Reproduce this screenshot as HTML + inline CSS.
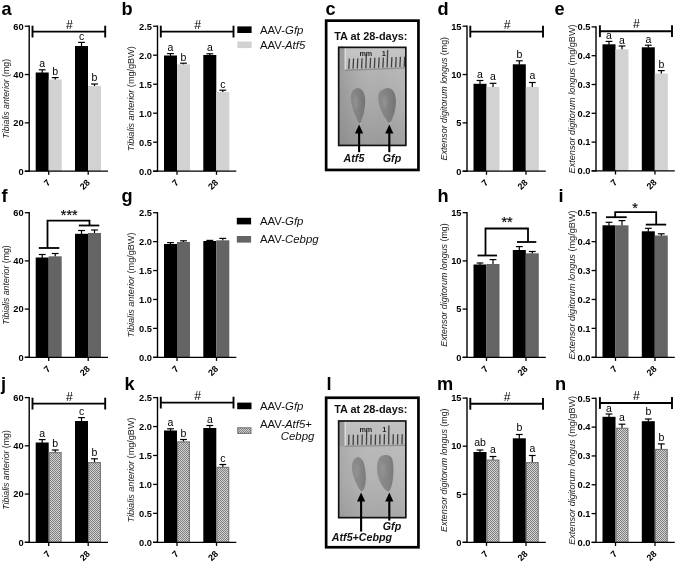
<!DOCTYPE html>
<html><head><meta charset="utf-8"><title>Figure</title>
<style>
html,body{margin:0;padding:0;background:#fff;}
body{width:676px;height:563px;overflow:hidden;}
svg{display:block;font-family:"Liberation Sans", Arial, sans-serif;}
svg text{font-family:"Liberation Sans", Arial, sans-serif;}
</style></head><body>
<svg width="676" height="563" viewBox="0 0 676 563">
<rect width="676" height="563" fill="#fff"/>
<defs>
<pattern id="chk" width="2" height="2" patternUnits="userSpaceOnUse">
<rect width="2" height="2" fill="#d4d4d4"/><rect width="1" height="1" fill="#7e7e7e"/><rect x="1" y="1" width="1" height="1" fill="#7e7e7e"/>
</pattern>
<linearGradient id="pg1" x1="0" y1="0" x2="0" y2="1"><stop offset="0" stop-color="#b6b6b6"/><stop offset="0.25" stop-color="#b2b2b2"/><stop offset="0.6" stop-color="#a8a8a8"/><stop offset="1" stop-color="#999999"/></linearGradient>
<linearGradient id="pg2" x1="0" y1="0" x2="0" y2="1"><stop offset="0" stop-color="#bcbcbc"/><stop offset="0.3" stop-color="#b8b8b8"/><stop offset="0.65" stop-color="#b2b2b2"/><stop offset="1" stop-color="#a6a6a6"/></linearGradient>
<linearGradient id="vg" x1="0" y1="0" x2="1" y2="0"><stop offset="0" stop-color="#707070" stop-opacity="0.35"/><stop offset="0.3" stop-color="#808080" stop-opacity="0.08"/><stop offset="0.6" stop-color="#fff" stop-opacity="0"/><stop offset="1" stop-color="#fff" stop-opacity="0.08"/></linearGradient>
<linearGradient id="rg1" x1="0" y1="0" x2="0" y2="1"><stop offset="0" stop-color="#c6c6c6"/><stop offset="1" stop-color="#bcbcbc"/></linearGradient>
<linearGradient id="rg2" x1="0" y1="0" x2="0" y2="1"><stop offset="0" stop-color="#c2c2c2"/><stop offset="1" stop-color="#b8b8b8"/></linearGradient>
<linearGradient id="mg1" x1="0" y1="0" x2="1" y2="0"><stop offset="0" stop-color="#8a8a8a"/><stop offset="0.6" stop-color="#808080"/><stop offset="1" stop-color="#727272"/></linearGradient>
<linearGradient id="mg2" x1="0" y1="0" x2="1" y2="0"><stop offset="0" stop-color="#8e8e8e"/><stop offset="0.6" stop-color="#868686"/><stop offset="1" stop-color="#7a7a7a"/></linearGradient>
<filter id="bl" x="-30%" y="-30%" width="160%" height="160%"><feGaussianBlur stdDeviation="0.6"/></filter>
<filter id="bl2" x="-50%" y="-50%" width="200%" height="200%"><feGaussianBlur stdDeviation="1"/></filter>
<filter id="bl3" x="-100%" y="-100%" width="300%" height="300%"><feGaussianBlur stdDeviation="0.5"/></filter>
</defs>
<text x="1.50" y="14.60" font-size="18.2" font-weight="bold" font-style="normal" text-anchor="start" >a</text>
<line x1="42.20" y1="69.80" x2="42.20" y2="73.00" stroke="#000" stroke-width="1.2"/>
<line x1="38.80" y1="69.80" x2="45.60" y2="69.80" stroke="#000" stroke-width="1.2"/>
<rect x="35.70" y="72.50" width="13.00" height="98.70" fill="#000" />
<line x1="55.20" y1="77.60" x2="55.20" y2="80.00" stroke="#000" stroke-width="1.2"/>
<line x1="51.80" y1="77.60" x2="58.60" y2="77.60" stroke="#000" stroke-width="1.2"/>
<rect x="48.70" y="79.50" width="13.00" height="91.70" fill="#d2d2d2" />
<line x1="81.50" y1="42.40" x2="81.50" y2="46.50" stroke="#000" stroke-width="1.2"/>
<line x1="78.10" y1="42.40" x2="84.90" y2="42.40" stroke="#000" stroke-width="1.2"/>
<rect x="75.00" y="46.00" width="13.00" height="125.20" fill="#000" />
<line x1="94.50" y1="84.00" x2="94.50" y2="86.50" stroke="#000" stroke-width="1.2"/>
<line x1="91.10" y1="84.00" x2="97.90" y2="84.00" stroke="#000" stroke-width="1.2"/>
<rect x="88.00" y="86.00" width="13.00" height="85.20" fill="#d2d2d2" />
<line x1="29.20" y1="25.55" x2="29.20" y2="171.85" stroke="#000" stroke-width="1.4"/>
<line x1="24.80" y1="171.20" x2="108.00" y2="171.20" stroke="#000" stroke-width="1.3"/>
<line x1="24.80" y1="171.20" x2="29.20" y2="171.20" stroke="#000" stroke-width="1.3"/>
<text x="23.70" y="174.50" font-size="9.3" font-weight="bold" font-style="normal" text-anchor="end" >0</text>
<line x1="24.80" y1="122.87" x2="29.20" y2="122.87" stroke="#000" stroke-width="1.3"/>
<text x="23.70" y="126.17" font-size="9.3" font-weight="bold" font-style="normal" text-anchor="end" >20</text>
<line x1="24.80" y1="74.53" x2="29.20" y2="74.53" stroke="#000" stroke-width="1.3"/>
<text x="23.70" y="77.83" font-size="9.3" font-weight="bold" font-style="normal" text-anchor="end" >40</text>
<line x1="24.80" y1="26.20" x2="29.20" y2="26.20" stroke="#000" stroke-width="1.3"/>
<text x="23.70" y="29.50" font-size="9.3" font-weight="bold" font-style="normal" text-anchor="end" >60</text>
<line x1="48.70" y1="171.20" x2="48.70" y2="174.80" stroke="#000" stroke-width="1.3"/>
<text transform="translate(47.10,179.40) rotate(-45)" font-size="9" font-weight="bold" text-anchor="end" dominant-baseline="auto" y="5.5">7</text>
<line x1="88.20" y1="171.20" x2="88.20" y2="174.80" stroke="#000" stroke-width="1.3"/>
<text transform="translate(86.60,179.40) rotate(-45)" font-size="9" font-weight="bold" text-anchor="end" dominant-baseline="auto" y="5.5">28</text>
<text transform="translate(8.70,98.70) rotate(-90)" font-size="9" text-anchor="middle" textLength="79.5" lengthAdjust="spacingAndGlyphs" fill="#1a1a1a"><tspan font-style="italic">Tibialis anterior</tspan> (mg)</text>
<text x="42.20" y="67.20" font-size="10.5" font-weight="normal" font-style="normal" text-anchor="middle" >a</text>
<text x="55.20" y="75.00" font-size="10.5" font-weight="normal" font-style="normal" text-anchor="middle" >b</text>
<text x="81.50" y="40.20" font-size="10.5" font-weight="normal" font-style="normal" text-anchor="middle" >c</text>
<text x="94.50" y="81.30" font-size="10.5" font-weight="normal" font-style="normal" text-anchor="middle" >b</text>
<line x1="32.50" y1="31.60" x2="105.20" y2="31.60" stroke="#000" stroke-width="1.9"/>
<line x1="32.50" y1="25.70" x2="32.50" y2="37.50" stroke="#000" stroke-width="1.9"/>
<line x1="105.20" y1="25.70" x2="105.20" y2="37.50" stroke="#000" stroke-width="1.9"/>
<text x="69.35" y="28.60" font-size="12.3" font-weight="normal" font-style="normal" text-anchor="middle" >#</text>
<text x="121.50" y="14.60" font-size="18.2" font-weight="bold" font-style="normal" text-anchor="start" >b</text>
<line x1="170.50" y1="53.60" x2="170.50" y2="56.00" stroke="#000" stroke-width="1.2"/>
<line x1="167.10" y1="53.60" x2="173.90" y2="53.60" stroke="#000" stroke-width="1.2"/>
<rect x="164.00" y="55.50" width="13.00" height="115.70" fill="#000" />
<line x1="183.50" y1="63.20" x2="183.50" y2="64.80" stroke="#000" stroke-width="1.2"/>
<line x1="180.10" y1="63.20" x2="186.90" y2="63.20" stroke="#000" stroke-width="1.2"/>
<rect x="177.00" y="64.30" width="13.00" height="106.90" fill="#d2d2d2" />
<line x1="209.80" y1="53.80" x2="209.80" y2="55.50" stroke="#000" stroke-width="1.2"/>
<line x1="206.40" y1="53.80" x2="213.20" y2="53.80" stroke="#000" stroke-width="1.2"/>
<rect x="203.30" y="55.00" width="13.00" height="116.20" fill="#000" />
<line x1="222.80" y1="90.20" x2="222.80" y2="92.50" stroke="#000" stroke-width="1.2"/>
<line x1="219.40" y1="90.20" x2="226.20" y2="90.20" stroke="#000" stroke-width="1.2"/>
<rect x="216.30" y="92.00" width="13.00" height="79.20" fill="#d2d2d2" />
<line x1="157.50" y1="25.55" x2="157.50" y2="171.85" stroke="#000" stroke-width="1.4"/>
<line x1="153.10" y1="171.20" x2="236.30" y2="171.20" stroke="#000" stroke-width="1.3"/>
<line x1="153.10" y1="171.20" x2="157.50" y2="171.20" stroke="#000" stroke-width="1.3"/>
<text x="152.00" y="174.50" font-size="9.3" font-weight="bold" font-style="normal" text-anchor="end" >0.0</text>
<line x1="153.10" y1="142.20" x2="157.50" y2="142.20" stroke="#000" stroke-width="1.3"/>
<text x="152.00" y="145.50" font-size="9.3" font-weight="bold" font-style="normal" text-anchor="end" >0.5</text>
<line x1="153.10" y1="113.20" x2="157.50" y2="113.20" stroke="#000" stroke-width="1.3"/>
<text x="152.00" y="116.50" font-size="9.3" font-weight="bold" font-style="normal" text-anchor="end" >1.0</text>
<line x1="153.10" y1="84.20" x2="157.50" y2="84.20" stroke="#000" stroke-width="1.3"/>
<text x="152.00" y="87.50" font-size="9.3" font-weight="bold" font-style="normal" text-anchor="end" >1.5</text>
<line x1="153.10" y1="55.20" x2="157.50" y2="55.20" stroke="#000" stroke-width="1.3"/>
<text x="152.00" y="58.50" font-size="9.3" font-weight="bold" font-style="normal" text-anchor="end" >2.0</text>
<line x1="153.10" y1="26.20" x2="157.50" y2="26.20" stroke="#000" stroke-width="1.3"/>
<text x="152.00" y="29.50" font-size="9.3" font-weight="bold" font-style="normal" text-anchor="end" >2.5</text>
<line x1="177.00" y1="171.20" x2="177.00" y2="174.80" stroke="#000" stroke-width="1.3"/>
<text transform="translate(175.40,179.40) rotate(-45)" font-size="9" font-weight="bold" text-anchor="end" dominant-baseline="auto" y="5.5">7</text>
<line x1="216.50" y1="171.20" x2="216.50" y2="174.80" stroke="#000" stroke-width="1.3"/>
<text transform="translate(214.90,179.40) rotate(-45)" font-size="9" font-weight="bold" text-anchor="end" dominant-baseline="auto" y="5.5">28</text>
<text transform="translate(134.20,98.70) rotate(-90)" font-size="9" text-anchor="middle" textLength="105" lengthAdjust="spacingAndGlyphs" fill="#1a1a1a"><tspan font-style="italic">Tibialis anterior</tspan> (mg/gBW)</text>
<text x="170.50" y="51.00" font-size="10.5" font-weight="normal" font-style="normal" text-anchor="middle" >a</text>
<text x="183.50" y="60.60" font-size="10.5" font-weight="normal" font-style="normal" text-anchor="middle" >b</text>
<text x="209.80" y="51.00" font-size="10.5" font-weight="normal" font-style="normal" text-anchor="middle" >a</text>
<text x="222.80" y="87.50" font-size="10.5" font-weight="normal" font-style="normal" text-anchor="middle" >c</text>
<line x1="160.80" y1="31.60" x2="233.50" y2="31.60" stroke="#000" stroke-width="1.9"/>
<line x1="160.80" y1="25.70" x2="160.80" y2="37.50" stroke="#000" stroke-width="1.9"/>
<line x1="233.50" y1="25.70" x2="233.50" y2="37.50" stroke="#000" stroke-width="1.9"/>
<text x="197.65" y="28.60" font-size="12.3" font-weight="normal" font-style="normal" text-anchor="middle" >#</text>
<text x="437.50" y="14.60" font-size="18.2" font-weight="bold" font-style="normal" text-anchor="start" >d</text>
<line x1="480.00" y1="80.50" x2="480.00" y2="84.30" stroke="#000" stroke-width="1.2"/>
<line x1="476.60" y1="80.50" x2="483.40" y2="80.50" stroke="#000" stroke-width="1.2"/>
<rect x="473.50" y="83.80" width="13.00" height="87.40" fill="#000" />
<line x1="493.00" y1="83.30" x2="493.00" y2="87.50" stroke="#000" stroke-width="1.2"/>
<line x1="489.60" y1="83.30" x2="496.40" y2="83.30" stroke="#000" stroke-width="1.2"/>
<rect x="486.50" y="87.00" width="13.00" height="84.20" fill="#d2d2d2" />
<line x1="519.30" y1="60.80" x2="519.30" y2="64.80" stroke="#000" stroke-width="1.2"/>
<line x1="515.90" y1="60.80" x2="522.70" y2="60.80" stroke="#000" stroke-width="1.2"/>
<rect x="512.80" y="64.30" width="13.00" height="106.90" fill="#000" />
<line x1="532.30" y1="82.50" x2="532.30" y2="87.50" stroke="#000" stroke-width="1.2"/>
<line x1="528.90" y1="82.50" x2="535.70" y2="82.50" stroke="#000" stroke-width="1.2"/>
<rect x="525.80" y="87.00" width="13.00" height="84.20" fill="#d2d2d2" />
<line x1="467.00" y1="25.55" x2="467.00" y2="171.85" stroke="#000" stroke-width="1.4"/>
<line x1="462.60" y1="171.20" x2="545.80" y2="171.20" stroke="#000" stroke-width="1.3"/>
<line x1="462.60" y1="171.20" x2="467.00" y2="171.20" stroke="#000" stroke-width="1.3"/>
<text x="461.50" y="174.50" font-size="9.3" font-weight="bold" font-style="normal" text-anchor="end" >0</text>
<line x1="462.60" y1="122.87" x2="467.00" y2="122.87" stroke="#000" stroke-width="1.3"/>
<text x="461.50" y="126.17" font-size="9.3" font-weight="bold" font-style="normal" text-anchor="end" >5</text>
<line x1="462.60" y1="74.53" x2="467.00" y2="74.53" stroke="#000" stroke-width="1.3"/>
<text x="461.50" y="77.83" font-size="9.3" font-weight="bold" font-style="normal" text-anchor="end" >10</text>
<line x1="462.60" y1="26.20" x2="467.00" y2="26.20" stroke="#000" stroke-width="1.3"/>
<text x="461.50" y="29.50" font-size="9.3" font-weight="bold" font-style="normal" text-anchor="end" >15</text>
<line x1="486.50" y1="171.20" x2="486.50" y2="174.80" stroke="#000" stroke-width="1.3"/>
<text transform="translate(484.90,179.40) rotate(-45)" font-size="9" font-weight="bold" text-anchor="end" dominant-baseline="auto" y="5.5">7</text>
<line x1="526.00" y1="171.20" x2="526.00" y2="174.80" stroke="#000" stroke-width="1.3"/>
<text transform="translate(524.40,179.40) rotate(-45)" font-size="9" font-weight="bold" text-anchor="end" dominant-baseline="auto" y="5.5">28</text>
<text transform="translate(446.80,98.70) rotate(-90)" font-size="9" text-anchor="middle" textLength="123.6" lengthAdjust="spacingAndGlyphs" fill="#1a1a1a"><tspan font-style="italic">Extensor digitorum longus</tspan> (mg)</text>
<text x="480.00" y="78.00" font-size="10.5" font-weight="normal" font-style="normal" text-anchor="middle" >a</text>
<text x="493.00" y="80.30" font-size="10.5" font-weight="normal" font-style="normal" text-anchor="middle" >a</text>
<text x="519.30" y="57.60" font-size="10.5" font-weight="normal" font-style="normal" text-anchor="middle" >b</text>
<text x="532.30" y="79.00" font-size="10.5" font-weight="normal" font-style="normal" text-anchor="middle" >a</text>
<line x1="470.30" y1="31.60" x2="543.00" y2="31.60" stroke="#000" stroke-width="1.9"/>
<line x1="470.30" y1="25.70" x2="470.30" y2="37.50" stroke="#000" stroke-width="1.9"/>
<line x1="543.00" y1="25.70" x2="543.00" y2="37.50" stroke="#000" stroke-width="1.9"/>
<text x="507.15" y="28.60" font-size="12.3" font-weight="normal" font-style="normal" text-anchor="middle" >#</text>
<text x="554.50" y="14.60" font-size="18.2" font-weight="bold" font-style="normal" text-anchor="start" >e</text>
<line x1="609.00" y1="41.40" x2="609.00" y2="44.80" stroke="#000" stroke-width="1.2"/>
<line x1="605.60" y1="41.40" x2="612.40" y2="41.40" stroke="#000" stroke-width="1.2"/>
<rect x="602.50" y="44.30" width="13.00" height="126.60" fill="#000" />
<line x1="622.00" y1="46.00" x2="622.00" y2="49.80" stroke="#000" stroke-width="1.2"/>
<line x1="618.60" y1="46.00" x2="625.40" y2="46.00" stroke="#000" stroke-width="1.2"/>
<rect x="615.50" y="49.30" width="13.00" height="121.60" fill="#d2d2d2" />
<line x1="648.30" y1="45.20" x2="648.30" y2="47.80" stroke="#000" stroke-width="1.2"/>
<line x1="644.90" y1="45.20" x2="651.70" y2="45.20" stroke="#000" stroke-width="1.2"/>
<rect x="641.80" y="47.30" width="13.00" height="123.60" fill="#000" />
<line x1="661.30" y1="70.60" x2="661.30" y2="74.10" stroke="#000" stroke-width="1.2"/>
<line x1="657.90" y1="70.60" x2="664.70" y2="70.60" stroke="#000" stroke-width="1.2"/>
<rect x="654.80" y="73.60" width="13.00" height="97.30" fill="#d2d2d2" />
<line x1="596.00" y1="26.25" x2="596.00" y2="171.55" stroke="#000" stroke-width="1.4"/>
<line x1="591.60" y1="170.90" x2="674.80" y2="170.90" stroke="#000" stroke-width="1.3"/>
<line x1="591.60" y1="170.90" x2="596.00" y2="170.90" stroke="#000" stroke-width="1.3"/>
<text x="590.50" y="174.20" font-size="9.3" font-weight="bold" font-style="normal" text-anchor="end" >0.0</text>
<line x1="591.60" y1="142.10" x2="596.00" y2="142.10" stroke="#000" stroke-width="1.3"/>
<text x="590.50" y="145.40" font-size="9.3" font-weight="bold" font-style="normal" text-anchor="end" >0.1</text>
<line x1="591.60" y1="113.30" x2="596.00" y2="113.30" stroke="#000" stroke-width="1.3"/>
<text x="590.50" y="116.60" font-size="9.3" font-weight="bold" font-style="normal" text-anchor="end" >0.2</text>
<line x1="591.60" y1="84.50" x2="596.00" y2="84.50" stroke="#000" stroke-width="1.3"/>
<text x="590.50" y="87.80" font-size="9.3" font-weight="bold" font-style="normal" text-anchor="end" >0.3</text>
<line x1="591.60" y1="55.70" x2="596.00" y2="55.70" stroke="#000" stroke-width="1.3"/>
<text x="590.50" y="59.00" font-size="9.3" font-weight="bold" font-style="normal" text-anchor="end" >0.4</text>
<line x1="591.60" y1="26.90" x2="596.00" y2="26.90" stroke="#000" stroke-width="1.3"/>
<text x="590.50" y="30.20" font-size="9.3" font-weight="bold" font-style="normal" text-anchor="end" >0.5</text>
<line x1="615.50" y1="170.90" x2="615.50" y2="174.50" stroke="#000" stroke-width="1.3"/>
<text transform="translate(613.90,179.10) rotate(-45)" font-size="9" font-weight="bold" text-anchor="end" dominant-baseline="auto" y="5.5">7</text>
<line x1="655.00" y1="170.90" x2="655.00" y2="174.50" stroke="#000" stroke-width="1.3"/>
<text transform="translate(653.40,179.10) rotate(-45)" font-size="9" font-weight="bold" text-anchor="end" dominant-baseline="auto" y="5.5">28</text>
<text transform="translate(575.20,98.90) rotate(-90)" font-size="9" text-anchor="middle" textLength="149" lengthAdjust="spacingAndGlyphs" fill="#1a1a1a"><tspan font-style="italic">Extensor digitorum longus</tspan> (mg/gBW)</text>
<text x="609.00" y="39.40" font-size="10.5" font-weight="normal" font-style="normal" text-anchor="middle" >a</text>
<text x="622.00" y="43.80" font-size="10.5" font-weight="normal" font-style="normal" text-anchor="middle" >a</text>
<text x="648.30" y="43.00" font-size="10.5" font-weight="normal" font-style="normal" text-anchor="middle" >a</text>
<text x="661.30" y="68.40" font-size="10.5" font-weight="normal" font-style="normal" text-anchor="middle" >b</text>
<line x1="599.90" y1="31.20" x2="672.00" y2="31.20" stroke="#000" stroke-width="1.9"/>
<line x1="599.90" y1="25.30" x2="599.90" y2="37.10" stroke="#000" stroke-width="1.9"/>
<line x1="672.00" y1="25.30" x2="672.00" y2="37.10" stroke="#000" stroke-width="1.9"/>
<text x="636.45" y="28.20" font-size="12.3" font-weight="normal" font-style="normal" text-anchor="middle" >#</text>
<text x="1.50" y="202.00" font-size="18.2" font-weight="bold" font-style="normal" text-anchor="start" >f</text>
<line x1="42.20" y1="254.50" x2="42.20" y2="258.00" stroke="#000" stroke-width="1.2"/>
<line x1="38.80" y1="254.50" x2="45.60" y2="254.50" stroke="#000" stroke-width="1.2"/>
<rect x="35.70" y="257.50" width="13.00" height="99.80" fill="#000" />
<line x1="55.20" y1="253.50" x2="55.20" y2="256.80" stroke="#000" stroke-width="1.2"/>
<line x1="51.80" y1="253.50" x2="58.60" y2="253.50" stroke="#000" stroke-width="1.2"/>
<rect x="48.70" y="256.30" width="13.00" height="101.00" fill="#646464" />
<line x1="81.50" y1="230.50" x2="81.50" y2="234.30" stroke="#000" stroke-width="1.2"/>
<line x1="78.10" y1="230.50" x2="84.90" y2="230.50" stroke="#000" stroke-width="1.2"/>
<rect x="75.00" y="233.80" width="13.00" height="123.50" fill="#000" />
<line x1="94.50" y1="230.00" x2="94.50" y2="233.50" stroke="#000" stroke-width="1.2"/>
<line x1="91.10" y1="230.00" x2="97.90" y2="230.00" stroke="#000" stroke-width="1.2"/>
<rect x="88.00" y="233.00" width="13.00" height="124.30" fill="#646464" />
<line x1="29.20" y1="212.05" x2="29.20" y2="357.95" stroke="#000" stroke-width="1.4"/>
<line x1="24.80" y1="357.30" x2="108.00" y2="357.30" stroke="#000" stroke-width="1.3"/>
<line x1="24.80" y1="357.30" x2="29.20" y2="357.30" stroke="#000" stroke-width="1.3"/>
<text x="23.70" y="360.60" font-size="9.3" font-weight="bold" font-style="normal" text-anchor="end" >0</text>
<line x1="24.80" y1="309.10" x2="29.20" y2="309.10" stroke="#000" stroke-width="1.3"/>
<text x="23.70" y="312.40" font-size="9.3" font-weight="bold" font-style="normal" text-anchor="end" >20</text>
<line x1="24.80" y1="260.90" x2="29.20" y2="260.90" stroke="#000" stroke-width="1.3"/>
<text x="23.70" y="264.20" font-size="9.3" font-weight="bold" font-style="normal" text-anchor="end" >40</text>
<line x1="24.80" y1="212.70" x2="29.20" y2="212.70" stroke="#000" stroke-width="1.3"/>
<text x="23.70" y="216.00" font-size="9.3" font-weight="bold" font-style="normal" text-anchor="end" >60</text>
<line x1="48.70" y1="357.30" x2="48.70" y2="360.90" stroke="#000" stroke-width="1.3"/>
<text transform="translate(47.10,365.50) rotate(-45)" font-size="9" font-weight="bold" text-anchor="end" dominant-baseline="auto" y="5.5">7</text>
<line x1="88.20" y1="357.30" x2="88.20" y2="360.90" stroke="#000" stroke-width="1.3"/>
<text transform="translate(86.60,365.50) rotate(-45)" font-size="9" font-weight="bold" text-anchor="end" dominant-baseline="auto" y="5.5">28</text>
<text transform="translate(8.70,285.00) rotate(-90)" font-size="9" text-anchor="middle" textLength="79.5" lengthAdjust="spacingAndGlyphs" fill="#1a1a1a"><tspan font-style="italic">Tibialis anterior</tspan> (mg)</text>
<line x1="38.80" y1="248.00" x2="59.30" y2="248.00" stroke="#000" stroke-width="1.8"/>
<line x1="78.80" y1="225.50" x2="99.30" y2="225.50" stroke="#000" stroke-width="1.8"/>
<polyline points="47.50,248.00 47.50,220.60 89.50,220.60 89.50,225.50" fill="none" stroke="#000" stroke-width="1.8" stroke-linejoin="miter"/>
<text x="69.20" y="219.80" font-size="14.4" font-weight="normal" font-style="normal" text-anchor="middle" stroke="#000" stroke-width="0.15">***</text>
<text x="121.50" y="202.00" font-size="18.2" font-weight="bold" font-style="normal" text-anchor="start" >g</text>
<line x1="170.50" y1="242.60" x2="170.50" y2="244.50" stroke="#000" stroke-width="1.2"/>
<line x1="167.10" y1="242.60" x2="173.90" y2="242.60" stroke="#000" stroke-width="1.2"/>
<rect x="164.00" y="244.00" width="13.00" height="113.30" fill="#000" />
<line x1="183.50" y1="240.80" x2="183.50" y2="242.50" stroke="#000" stroke-width="1.2"/>
<line x1="180.10" y1="240.80" x2="186.90" y2="240.80" stroke="#000" stroke-width="1.2"/>
<rect x="177.00" y="242.00" width="13.00" height="115.30" fill="#646464" />
<line x1="209.80" y1="240.40" x2="209.80" y2="241.50" stroke="#000" stroke-width="1.2"/>
<line x1="206.40" y1="240.40" x2="213.20" y2="240.40" stroke="#000" stroke-width="1.2"/>
<rect x="203.30" y="241.00" width="13.00" height="116.30" fill="#000" />
<line x1="222.80" y1="238.40" x2="222.80" y2="240.80" stroke="#000" stroke-width="1.2"/>
<line x1="219.40" y1="238.40" x2="226.20" y2="238.40" stroke="#000" stroke-width="1.2"/>
<rect x="216.30" y="240.30" width="13.00" height="117.00" fill="#646464" />
<line x1="157.50" y1="212.05" x2="157.50" y2="357.95" stroke="#000" stroke-width="1.4"/>
<line x1="153.10" y1="357.30" x2="236.30" y2="357.30" stroke="#000" stroke-width="1.3"/>
<line x1="153.10" y1="357.30" x2="157.50" y2="357.30" stroke="#000" stroke-width="1.3"/>
<text x="152.00" y="360.60" font-size="9.3" font-weight="bold" font-style="normal" text-anchor="end" >0.0</text>
<line x1="153.10" y1="328.38" x2="157.50" y2="328.38" stroke="#000" stroke-width="1.3"/>
<text x="152.00" y="331.68" font-size="9.3" font-weight="bold" font-style="normal" text-anchor="end" >0.5</text>
<line x1="153.10" y1="299.46" x2="157.50" y2="299.46" stroke="#000" stroke-width="1.3"/>
<text x="152.00" y="302.76" font-size="9.3" font-weight="bold" font-style="normal" text-anchor="end" >1.0</text>
<line x1="153.10" y1="270.54" x2="157.50" y2="270.54" stroke="#000" stroke-width="1.3"/>
<text x="152.00" y="273.84" font-size="9.3" font-weight="bold" font-style="normal" text-anchor="end" >1.5</text>
<line x1="153.10" y1="241.62" x2="157.50" y2="241.62" stroke="#000" stroke-width="1.3"/>
<text x="152.00" y="244.92" font-size="9.3" font-weight="bold" font-style="normal" text-anchor="end" >2.0</text>
<line x1="153.10" y1="212.70" x2="157.50" y2="212.70" stroke="#000" stroke-width="1.3"/>
<text x="152.00" y="216.00" font-size="9.3" font-weight="bold" font-style="normal" text-anchor="end" >2.5</text>
<line x1="177.00" y1="357.30" x2="177.00" y2="360.90" stroke="#000" stroke-width="1.3"/>
<text transform="translate(175.40,365.50) rotate(-45)" font-size="9" font-weight="bold" text-anchor="end" dominant-baseline="auto" y="5.5">7</text>
<line x1="216.50" y1="357.30" x2="216.50" y2="360.90" stroke="#000" stroke-width="1.3"/>
<text transform="translate(214.90,365.50) rotate(-45)" font-size="9" font-weight="bold" text-anchor="end" dominant-baseline="auto" y="5.5">28</text>
<text transform="translate(134.20,285.00) rotate(-90)" font-size="9" text-anchor="middle" textLength="105" lengthAdjust="spacingAndGlyphs" fill="#1a1a1a"><tspan font-style="italic">Tibialis anterior</tspan> (mg/gBW)</text>
<text x="437.50" y="202.00" font-size="18.2" font-weight="bold" font-style="normal" text-anchor="start" >h</text>
<line x1="480.00" y1="263.00" x2="480.00" y2="265.00" stroke="#000" stroke-width="1.2"/>
<line x1="476.60" y1="263.00" x2="483.40" y2="263.00" stroke="#000" stroke-width="1.2"/>
<rect x="473.50" y="264.50" width="13.00" height="92.80" fill="#000" />
<line x1="493.00" y1="259.60" x2="493.00" y2="264.50" stroke="#000" stroke-width="1.2"/>
<line x1="489.60" y1="259.60" x2="496.40" y2="259.60" stroke="#000" stroke-width="1.2"/>
<rect x="486.50" y="264.00" width="13.00" height="93.30" fill="#646464" />
<line x1="519.30" y1="246.60" x2="519.30" y2="250.50" stroke="#000" stroke-width="1.2"/>
<line x1="515.90" y1="246.60" x2="522.70" y2="246.60" stroke="#000" stroke-width="1.2"/>
<rect x="512.80" y="250.00" width="13.00" height="107.30" fill="#000" />
<line x1="532.30" y1="251.50" x2="532.30" y2="253.80" stroke="#000" stroke-width="1.2"/>
<line x1="528.90" y1="251.50" x2="535.70" y2="251.50" stroke="#000" stroke-width="1.2"/>
<rect x="525.80" y="253.30" width="13.00" height="104.00" fill="#646464" />
<line x1="467.00" y1="212.05" x2="467.00" y2="357.95" stroke="#000" stroke-width="1.4"/>
<line x1="462.60" y1="357.30" x2="545.80" y2="357.30" stroke="#000" stroke-width="1.3"/>
<line x1="462.60" y1="357.30" x2="467.00" y2="357.30" stroke="#000" stroke-width="1.3"/>
<text x="461.50" y="360.60" font-size="9.3" font-weight="bold" font-style="normal" text-anchor="end" >0</text>
<line x1="462.60" y1="309.10" x2="467.00" y2="309.10" stroke="#000" stroke-width="1.3"/>
<text x="461.50" y="312.40" font-size="9.3" font-weight="bold" font-style="normal" text-anchor="end" >5</text>
<line x1="462.60" y1="260.90" x2="467.00" y2="260.90" stroke="#000" stroke-width="1.3"/>
<text x="461.50" y="264.20" font-size="9.3" font-weight="bold" font-style="normal" text-anchor="end" >10</text>
<line x1="462.60" y1="212.70" x2="467.00" y2="212.70" stroke="#000" stroke-width="1.3"/>
<text x="461.50" y="216.00" font-size="9.3" font-weight="bold" font-style="normal" text-anchor="end" >15</text>
<line x1="486.50" y1="357.30" x2="486.50" y2="360.90" stroke="#000" stroke-width="1.3"/>
<text transform="translate(484.90,365.50) rotate(-45)" font-size="9" font-weight="bold" text-anchor="end" dominant-baseline="auto" y="5.5">7</text>
<line x1="526.00" y1="357.30" x2="526.00" y2="360.90" stroke="#000" stroke-width="1.3"/>
<text transform="translate(524.40,365.50) rotate(-45)" font-size="9" font-weight="bold" text-anchor="end" dominant-baseline="auto" y="5.5">28</text>
<text transform="translate(446.80,285.00) rotate(-90)" font-size="9" text-anchor="middle" textLength="123.6" lengthAdjust="spacingAndGlyphs" fill="#1a1a1a"><tspan font-style="italic">Extensor digitorum longus</tspan> (mg)</text>
<line x1="477.50" y1="255.50" x2="497.00" y2="255.50" stroke="#000" stroke-width="1.8"/>
<line x1="517.00" y1="242.00" x2="536.30" y2="242.00" stroke="#000" stroke-width="1.8"/>
<polyline points="485.50,255.50 485.50,228.50 528.00,228.50 528.00,242.00" fill="none" stroke="#000" stroke-width="1.8" stroke-linejoin="miter"/>
<text x="507.00" y="226.80" font-size="14.4" font-weight="normal" font-style="normal" text-anchor="middle" stroke="#000" stroke-width="0.15">**</text>
<text x="558.50" y="202.00" font-size="18.2" font-weight="bold" font-style="normal" text-anchor="start" >i</text>
<line x1="609.00" y1="222.30" x2="609.00" y2="225.80" stroke="#000" stroke-width="1.2"/>
<line x1="605.60" y1="222.30" x2="612.40" y2="222.30" stroke="#000" stroke-width="1.2"/>
<rect x="602.50" y="225.30" width="13.00" height="132.00" fill="#000" />
<line x1="622.00" y1="220.60" x2="622.00" y2="225.80" stroke="#000" stroke-width="1.2"/>
<line x1="618.60" y1="220.60" x2="625.40" y2="220.60" stroke="#000" stroke-width="1.2"/>
<rect x="615.50" y="225.30" width="13.00" height="132.00" fill="#646464" />
<line x1="648.30" y1="228.30" x2="648.30" y2="231.80" stroke="#000" stroke-width="1.2"/>
<line x1="644.90" y1="228.30" x2="651.70" y2="228.30" stroke="#000" stroke-width="1.2"/>
<rect x="641.80" y="231.30" width="13.00" height="126.00" fill="#000" />
<line x1="661.30" y1="233.80" x2="661.30" y2="236.00" stroke="#000" stroke-width="1.2"/>
<line x1="657.90" y1="233.80" x2="664.70" y2="233.80" stroke="#000" stroke-width="1.2"/>
<rect x="654.80" y="235.50" width="13.00" height="121.80" fill="#646464" />
<line x1="596.00" y1="212.05" x2="596.00" y2="357.95" stroke="#000" stroke-width="1.4"/>
<line x1="591.60" y1="357.30" x2="674.80" y2="357.30" stroke="#000" stroke-width="1.3"/>
<line x1="591.60" y1="357.30" x2="596.00" y2="357.30" stroke="#000" stroke-width="1.3"/>
<text x="590.50" y="360.60" font-size="9.3" font-weight="bold" font-style="normal" text-anchor="end" >0.0</text>
<line x1="591.60" y1="328.38" x2="596.00" y2="328.38" stroke="#000" stroke-width="1.3"/>
<text x="590.50" y="331.68" font-size="9.3" font-weight="bold" font-style="normal" text-anchor="end" >0.1</text>
<line x1="591.60" y1="299.46" x2="596.00" y2="299.46" stroke="#000" stroke-width="1.3"/>
<text x="590.50" y="302.76" font-size="9.3" font-weight="bold" font-style="normal" text-anchor="end" >0.2</text>
<line x1="591.60" y1="270.54" x2="596.00" y2="270.54" stroke="#000" stroke-width="1.3"/>
<text x="590.50" y="273.84" font-size="9.3" font-weight="bold" font-style="normal" text-anchor="end" >0.3</text>
<line x1="591.60" y1="241.62" x2="596.00" y2="241.62" stroke="#000" stroke-width="1.3"/>
<text x="590.50" y="244.92" font-size="9.3" font-weight="bold" font-style="normal" text-anchor="end" >0.4</text>
<line x1="591.60" y1="212.70" x2="596.00" y2="212.70" stroke="#000" stroke-width="1.3"/>
<text x="590.50" y="216.00" font-size="9.3" font-weight="bold" font-style="normal" text-anchor="end" >0.5</text>
<line x1="615.50" y1="357.30" x2="615.50" y2="360.90" stroke="#000" stroke-width="1.3"/>
<text transform="translate(613.90,365.50) rotate(-45)" font-size="9" font-weight="bold" text-anchor="end" dominant-baseline="auto" y="5.5">7</text>
<line x1="655.00" y1="357.30" x2="655.00" y2="360.90" stroke="#000" stroke-width="1.3"/>
<text transform="translate(653.40,365.50) rotate(-45)" font-size="9" font-weight="bold" text-anchor="end" dominant-baseline="auto" y="5.5">28</text>
<text transform="translate(575.20,285.00) rotate(-90)" font-size="9" text-anchor="middle" textLength="149" lengthAdjust="spacingAndGlyphs" fill="#1a1a1a"><tspan font-style="italic">Extensor digitorum longus</tspan> (mg/gBW)</text>
<line x1="606.00" y1="217.20" x2="626.70" y2="217.20" stroke="#000" stroke-width="1.8"/>
<line x1="645.80" y1="224.60" x2="666.20" y2="224.60" stroke="#000" stroke-width="1.8"/>
<polyline points="615.20,217.20 615.20,212.10 656.20,212.10 656.20,224.60" fill="none" stroke="#000" stroke-width="1.8" stroke-linejoin="miter"/>
<text x="635.00" y="213.00" font-size="14.4" font-weight="normal" font-style="normal" text-anchor="middle" stroke="#000" stroke-width="0.15">*</text>
<text x="1.00" y="389.50" font-size="18.2" font-weight="bold" font-style="normal" text-anchor="start" >j</text>
<line x1="42.20" y1="439.60" x2="42.20" y2="443.00" stroke="#000" stroke-width="1.2"/>
<line x1="38.80" y1="439.60" x2="45.60" y2="439.60" stroke="#000" stroke-width="1.2"/>
<rect x="35.70" y="442.50" width="13.00" height="99.80" fill="#000" />
<line x1="55.20" y1="450.00" x2="55.20" y2="452.50" stroke="#000" stroke-width="1.2"/>
<line x1="51.80" y1="450.00" x2="58.60" y2="450.00" stroke="#000" stroke-width="1.2"/>
<rect x="49.30" y="452.60" width="11.80" height="89.70" fill="url(#chk)" stroke="#7a7a7a" stroke-width="1.2"/>
<line x1="81.50" y1="417.60" x2="81.50" y2="421.50" stroke="#000" stroke-width="1.2"/>
<line x1="78.10" y1="417.60" x2="84.90" y2="417.60" stroke="#000" stroke-width="1.2"/>
<rect x="75.00" y="421.00" width="13.00" height="121.30" fill="#000" />
<line x1="94.50" y1="458.80" x2="94.50" y2="462.50" stroke="#000" stroke-width="1.2"/>
<line x1="91.10" y1="458.80" x2="97.90" y2="458.80" stroke="#000" stroke-width="1.2"/>
<rect x="88.60" y="462.60" width="11.80" height="79.70" fill="url(#chk)" stroke="#7a7a7a" stroke-width="1.2"/>
<line x1="29.20" y1="396.95" x2="29.20" y2="542.95" stroke="#000" stroke-width="1.4"/>
<line x1="24.80" y1="542.30" x2="108.00" y2="542.30" stroke="#000" stroke-width="1.3"/>
<line x1="24.80" y1="542.30" x2="29.20" y2="542.30" stroke="#000" stroke-width="1.3"/>
<text x="23.70" y="545.60" font-size="9.3" font-weight="bold" font-style="normal" text-anchor="end" >0</text>
<line x1="24.80" y1="494.07" x2="29.20" y2="494.07" stroke="#000" stroke-width="1.3"/>
<text x="23.70" y="497.37" font-size="9.3" font-weight="bold" font-style="normal" text-anchor="end" >20</text>
<line x1="24.80" y1="445.83" x2="29.20" y2="445.83" stroke="#000" stroke-width="1.3"/>
<text x="23.70" y="449.13" font-size="9.3" font-weight="bold" font-style="normal" text-anchor="end" >40</text>
<line x1="24.80" y1="397.60" x2="29.20" y2="397.60" stroke="#000" stroke-width="1.3"/>
<text x="23.70" y="400.90" font-size="9.3" font-weight="bold" font-style="normal" text-anchor="end" >60</text>
<line x1="48.70" y1="542.30" x2="48.70" y2="545.90" stroke="#000" stroke-width="1.3"/>
<text transform="translate(47.10,550.50) rotate(-45)" font-size="9" font-weight="bold" text-anchor="end" dominant-baseline="auto" y="5.5">7</text>
<line x1="88.20" y1="542.30" x2="88.20" y2="545.90" stroke="#000" stroke-width="1.3"/>
<text transform="translate(86.60,550.50) rotate(-45)" font-size="9" font-weight="bold" text-anchor="end" dominant-baseline="auto" y="5.5">28</text>
<text transform="translate(8.70,469.95) rotate(-90)" font-size="9" text-anchor="middle" textLength="79.5" lengthAdjust="spacingAndGlyphs" fill="#1a1a1a"><tspan font-style="italic">Tibialis anterior</tspan> (mg)</text>
<text x="42.20" y="437.00" font-size="10.5" font-weight="normal" font-style="normal" text-anchor="middle" >a</text>
<text x="55.20" y="447.40" font-size="10.5" font-weight="normal" font-style="normal" text-anchor="middle" >b</text>
<text x="81.50" y="415.20" font-size="10.5" font-weight="normal" font-style="normal" text-anchor="middle" >c</text>
<text x="94.50" y="456.20" font-size="10.5" font-weight="normal" font-style="normal" text-anchor="middle" >b</text>
<line x1="32.50" y1="403.60" x2="105.20" y2="403.60" stroke="#000" stroke-width="1.9"/>
<line x1="32.50" y1="397.70" x2="32.50" y2="409.50" stroke="#000" stroke-width="1.9"/>
<line x1="105.20" y1="397.70" x2="105.20" y2="409.50" stroke="#000" stroke-width="1.9"/>
<text x="69.35" y="400.60" font-size="12.3" font-weight="normal" font-style="normal" text-anchor="middle" >#</text>
<text x="124.50" y="389.50" font-size="18.2" font-weight="bold" font-style="normal" text-anchor="start" >k</text>
<line x1="170.50" y1="428.80" x2="170.50" y2="431.00" stroke="#000" stroke-width="1.2"/>
<line x1="167.10" y1="428.80" x2="173.90" y2="428.80" stroke="#000" stroke-width="1.2"/>
<rect x="164.00" y="430.50" width="13.00" height="111.80" fill="#000" />
<line x1="183.50" y1="439.50" x2="183.50" y2="441.80" stroke="#000" stroke-width="1.2"/>
<line x1="180.10" y1="439.50" x2="186.90" y2="439.50" stroke="#000" stroke-width="1.2"/>
<rect x="177.60" y="441.90" width="11.80" height="100.40" fill="url(#chk)" stroke="#7a7a7a" stroke-width="1.2"/>
<line x1="209.80" y1="425.50" x2="209.80" y2="428.50" stroke="#000" stroke-width="1.2"/>
<line x1="206.40" y1="425.50" x2="213.20" y2="425.50" stroke="#000" stroke-width="1.2"/>
<rect x="203.30" y="428.00" width="13.00" height="114.30" fill="#000" />
<line x1="222.80" y1="464.50" x2="222.80" y2="467.30" stroke="#000" stroke-width="1.2"/>
<line x1="219.40" y1="464.50" x2="226.20" y2="464.50" stroke="#000" stroke-width="1.2"/>
<rect x="216.90" y="467.40" width="11.80" height="74.90" fill="url(#chk)" stroke="#7a7a7a" stroke-width="1.2"/>
<line x1="157.50" y1="396.95" x2="157.50" y2="542.95" stroke="#000" stroke-width="1.4"/>
<line x1="153.10" y1="542.30" x2="236.30" y2="542.30" stroke="#000" stroke-width="1.3"/>
<line x1="153.10" y1="542.30" x2="157.50" y2="542.30" stroke="#000" stroke-width="1.3"/>
<text x="152.00" y="545.60" font-size="9.3" font-weight="bold" font-style="normal" text-anchor="end" >0.0</text>
<line x1="153.10" y1="513.36" x2="157.50" y2="513.36" stroke="#000" stroke-width="1.3"/>
<text x="152.00" y="516.66" font-size="9.3" font-weight="bold" font-style="normal" text-anchor="end" >0.5</text>
<line x1="153.10" y1="484.42" x2="157.50" y2="484.42" stroke="#000" stroke-width="1.3"/>
<text x="152.00" y="487.72" font-size="9.3" font-weight="bold" font-style="normal" text-anchor="end" >1.0</text>
<line x1="153.10" y1="455.48" x2="157.50" y2="455.48" stroke="#000" stroke-width="1.3"/>
<text x="152.00" y="458.78" font-size="9.3" font-weight="bold" font-style="normal" text-anchor="end" >1.5</text>
<line x1="153.10" y1="426.54" x2="157.50" y2="426.54" stroke="#000" stroke-width="1.3"/>
<text x="152.00" y="429.84" font-size="9.3" font-weight="bold" font-style="normal" text-anchor="end" >2.0</text>
<line x1="153.10" y1="397.60" x2="157.50" y2="397.60" stroke="#000" stroke-width="1.3"/>
<text x="152.00" y="400.90" font-size="9.3" font-weight="bold" font-style="normal" text-anchor="end" >2.5</text>
<line x1="177.00" y1="542.30" x2="177.00" y2="545.90" stroke="#000" stroke-width="1.3"/>
<text transform="translate(175.40,550.50) rotate(-45)" font-size="9" font-weight="bold" text-anchor="end" dominant-baseline="auto" y="5.5">7</text>
<line x1="216.50" y1="542.30" x2="216.50" y2="545.90" stroke="#000" stroke-width="1.3"/>
<text transform="translate(214.90,550.50) rotate(-45)" font-size="9" font-weight="bold" text-anchor="end" dominant-baseline="auto" y="5.5">28</text>
<text transform="translate(134.20,469.95) rotate(-90)" font-size="9" text-anchor="middle" textLength="105" lengthAdjust="spacingAndGlyphs" fill="#1a1a1a"><tspan font-style="italic">Tibialis anterior</tspan> (mg/gBW)</text>
<text x="170.50" y="426.20" font-size="10.5" font-weight="normal" font-style="normal" text-anchor="middle" >a</text>
<text x="183.50" y="437.00" font-size="10.5" font-weight="normal" font-style="normal" text-anchor="middle" >b</text>
<text x="209.80" y="423.00" font-size="10.5" font-weight="normal" font-style="normal" text-anchor="middle" >a</text>
<text x="222.80" y="462.00" font-size="10.5" font-weight="normal" font-style="normal" text-anchor="middle" >c</text>
<line x1="160.80" y1="402.60" x2="233.50" y2="402.60" stroke="#000" stroke-width="1.9"/>
<line x1="160.80" y1="396.70" x2="160.80" y2="408.50" stroke="#000" stroke-width="1.9"/>
<line x1="233.50" y1="396.70" x2="233.50" y2="408.50" stroke="#000" stroke-width="1.9"/>
<text x="197.65" y="399.60" font-size="12.3" font-weight="normal" font-style="normal" text-anchor="middle" >#</text>
<text x="437.00" y="389.50" font-size="18.2" font-weight="bold" font-style="normal" text-anchor="start" >m</text>
<line x1="480.00" y1="450.00" x2="480.00" y2="452.50" stroke="#000" stroke-width="1.2"/>
<line x1="476.60" y1="450.00" x2="483.40" y2="450.00" stroke="#000" stroke-width="1.2"/>
<rect x="473.50" y="452.00" width="13.00" height="90.30" fill="#000" />
<line x1="493.00" y1="456.50" x2="493.00" y2="460.00" stroke="#000" stroke-width="1.2"/>
<line x1="489.60" y1="456.50" x2="496.40" y2="456.50" stroke="#000" stroke-width="1.2"/>
<rect x="487.10" y="460.10" width="11.80" height="82.20" fill="url(#chk)" stroke="#7a7a7a" stroke-width="1.2"/>
<line x1="519.30" y1="434.50" x2="519.30" y2="438.80" stroke="#000" stroke-width="1.2"/>
<line x1="515.90" y1="434.50" x2="522.70" y2="434.50" stroke="#000" stroke-width="1.2"/>
<rect x="512.80" y="438.30" width="13.00" height="104.00" fill="#000" />
<line x1="532.30" y1="455.50" x2="532.30" y2="462.50" stroke="#000" stroke-width="1.2"/>
<line x1="528.90" y1="455.50" x2="535.70" y2="455.50" stroke="#000" stroke-width="1.2"/>
<rect x="526.40" y="462.60" width="11.80" height="79.70" fill="url(#chk)" stroke="#7a7a7a" stroke-width="1.2"/>
<line x1="467.00" y1="397.45" x2="467.00" y2="542.95" stroke="#000" stroke-width="1.4"/>
<line x1="462.60" y1="542.30" x2="545.80" y2="542.30" stroke="#000" stroke-width="1.3"/>
<line x1="462.60" y1="542.30" x2="467.00" y2="542.30" stroke="#000" stroke-width="1.3"/>
<text x="461.50" y="545.60" font-size="9.3" font-weight="bold" font-style="normal" text-anchor="end" >0</text>
<line x1="462.60" y1="494.23" x2="467.00" y2="494.23" stroke="#000" stroke-width="1.3"/>
<text x="461.50" y="497.53" font-size="9.3" font-weight="bold" font-style="normal" text-anchor="end" >5</text>
<line x1="462.60" y1="446.17" x2="467.00" y2="446.17" stroke="#000" stroke-width="1.3"/>
<text x="461.50" y="449.47" font-size="9.3" font-weight="bold" font-style="normal" text-anchor="end" >10</text>
<line x1="462.60" y1="398.10" x2="467.00" y2="398.10" stroke="#000" stroke-width="1.3"/>
<text x="461.50" y="401.40" font-size="9.3" font-weight="bold" font-style="normal" text-anchor="end" >15</text>
<line x1="486.50" y1="542.30" x2="486.50" y2="545.90" stroke="#000" stroke-width="1.3"/>
<text transform="translate(484.90,550.50) rotate(-45)" font-size="9" font-weight="bold" text-anchor="end" dominant-baseline="auto" y="5.5">7</text>
<line x1="526.00" y1="542.30" x2="526.00" y2="545.90" stroke="#000" stroke-width="1.3"/>
<text transform="translate(524.40,550.50) rotate(-45)" font-size="9" font-weight="bold" text-anchor="end" dominant-baseline="auto" y="5.5">28</text>
<text transform="translate(446.80,470.20) rotate(-90)" font-size="9" text-anchor="middle" textLength="123.6" lengthAdjust="spacingAndGlyphs" fill="#1a1a1a"><tspan font-style="italic">Extensor digitorum longus</tspan> (mg)</text>
<text x="480.00" y="446.30" font-size="10.5" font-weight="normal" font-style="normal" text-anchor="middle" >ab</text>
<text x="493.00" y="452.60" font-size="10.5" font-weight="normal" font-style="normal" text-anchor="middle" >a</text>
<text x="519.30" y="431.30" font-size="10.5" font-weight="normal" font-style="normal" text-anchor="middle" >b</text>
<text x="532.30" y="452.00" font-size="10.5" font-weight="normal" font-style="normal" text-anchor="middle" >a</text>
<line x1="470.30" y1="403.80" x2="543.00" y2="403.80" stroke="#000" stroke-width="1.9"/>
<line x1="470.30" y1="397.90" x2="470.30" y2="409.70" stroke="#000" stroke-width="1.9"/>
<line x1="543.00" y1="397.90" x2="543.00" y2="409.70" stroke="#000" stroke-width="1.9"/>
<text x="507.15" y="400.80" font-size="12.3" font-weight="normal" font-style="normal" text-anchor="middle" >#</text>
<text x="555.00" y="389.50" font-size="18.2" font-weight="bold" font-style="normal" text-anchor="start" >n</text>
<line x1="609.00" y1="414.00" x2="609.00" y2="417.30" stroke="#000" stroke-width="1.2"/>
<line x1="605.60" y1="414.00" x2="612.40" y2="414.00" stroke="#000" stroke-width="1.2"/>
<rect x="602.50" y="416.80" width="13.00" height="125.60" fill="#000" />
<line x1="622.00" y1="424.20" x2="622.00" y2="428.20" stroke="#000" stroke-width="1.2"/>
<line x1="618.60" y1="424.20" x2="625.40" y2="424.20" stroke="#000" stroke-width="1.2"/>
<rect x="616.10" y="428.30" width="11.80" height="114.10" fill="url(#chk)" stroke="#7a7a7a" stroke-width="1.2"/>
<line x1="648.30" y1="419.00" x2="648.30" y2="421.70" stroke="#000" stroke-width="1.2"/>
<line x1="644.90" y1="419.00" x2="651.70" y2="419.00" stroke="#000" stroke-width="1.2"/>
<rect x="641.80" y="421.20" width="13.00" height="121.20" fill="#000" />
<line x1="661.30" y1="443.90" x2="661.30" y2="449.40" stroke="#000" stroke-width="1.2"/>
<line x1="657.90" y1="443.90" x2="664.70" y2="443.90" stroke="#000" stroke-width="1.2"/>
<rect x="655.40" y="449.50" width="11.80" height="92.90" fill="url(#chk)" stroke="#7a7a7a" stroke-width="1.2"/>
<line x1="596.00" y1="397.65" x2="596.00" y2="543.05" stroke="#000" stroke-width="1.4"/>
<line x1="591.60" y1="542.40" x2="674.80" y2="542.40" stroke="#000" stroke-width="1.3"/>
<line x1="591.60" y1="542.40" x2="596.00" y2="542.40" stroke="#000" stroke-width="1.3"/>
<text x="590.50" y="545.70" font-size="9.3" font-weight="bold" font-style="normal" text-anchor="end" >0.0</text>
<line x1="591.60" y1="513.58" x2="596.00" y2="513.58" stroke="#000" stroke-width="1.3"/>
<text x="590.50" y="516.88" font-size="9.3" font-weight="bold" font-style="normal" text-anchor="end" >0.1</text>
<line x1="591.60" y1="484.76" x2="596.00" y2="484.76" stroke="#000" stroke-width="1.3"/>
<text x="590.50" y="488.06" font-size="9.3" font-weight="bold" font-style="normal" text-anchor="end" >0.2</text>
<line x1="591.60" y1="455.94" x2="596.00" y2="455.94" stroke="#000" stroke-width="1.3"/>
<text x="590.50" y="459.24" font-size="9.3" font-weight="bold" font-style="normal" text-anchor="end" >0.3</text>
<line x1="591.60" y1="427.12" x2="596.00" y2="427.12" stroke="#000" stroke-width="1.3"/>
<text x="590.50" y="430.42" font-size="9.3" font-weight="bold" font-style="normal" text-anchor="end" >0.4</text>
<line x1="591.60" y1="398.30" x2="596.00" y2="398.30" stroke="#000" stroke-width="1.3"/>
<text x="590.50" y="401.60" font-size="9.3" font-weight="bold" font-style="normal" text-anchor="end" >0.5</text>
<line x1="615.50" y1="542.40" x2="615.50" y2="546.00" stroke="#000" stroke-width="1.3"/>
<text transform="translate(613.90,550.60) rotate(-45)" font-size="9" font-weight="bold" text-anchor="end" dominant-baseline="auto" y="5.5">7</text>
<line x1="655.00" y1="542.40" x2="655.00" y2="546.00" stroke="#000" stroke-width="1.3"/>
<text transform="translate(653.40,550.60) rotate(-45)" font-size="9" font-weight="bold" text-anchor="end" dominant-baseline="auto" y="5.5">28</text>
<text transform="translate(575.20,470.35) rotate(-90)" font-size="9" text-anchor="middle" textLength="149" lengthAdjust="spacingAndGlyphs" fill="#1a1a1a"><tspan font-style="italic">Extensor digitorum longus</tspan> (mg/gBW)</text>
<text x="609.00" y="411.80" font-size="10.5" font-weight="normal" font-style="normal" text-anchor="middle" >a</text>
<text x="622.00" y="421.00" font-size="10.5" font-weight="normal" font-style="normal" text-anchor="middle" >a</text>
<text x="648.30" y="414.80" font-size="10.5" font-weight="normal" font-style="normal" text-anchor="middle" >b</text>
<text x="661.30" y="441.20" font-size="10.5" font-weight="normal" font-style="normal" text-anchor="middle" >b</text>
<line x1="599.90" y1="403.00" x2="672.00" y2="403.00" stroke="#000" stroke-width="1.9"/>
<line x1="599.90" y1="397.10" x2="599.90" y2="408.90" stroke="#000" stroke-width="1.9"/>
<line x1="672.00" y1="397.10" x2="672.00" y2="408.90" stroke="#000" stroke-width="1.9"/>
<text x="636.45" y="400.00" font-size="12.3" font-weight="normal" font-style="normal" text-anchor="middle" >#</text>
<rect x="237.30" y="26.40" width="14.30" height="6.60" fill="#000" />
<text x="259.90" y="33.60" font-size="11.4" font-weight="normal" font-style="normal" text-anchor="start" fill="#111">AAV-<tspan font-style="italic">Gfp</tspan></text>
<rect x="237.30" y="41.50" width="14.30" height="6.60" fill="#d2d2d2" />
<text x="259.90" y="48.60" font-size="11.4" font-weight="normal" font-style="normal" text-anchor="start" fill="#111">AAV-<tspan font-style="italic">Atf5</tspan></text>
<rect x="236.80" y="217.80" width="14.30" height="6.60" fill="#000" />
<text x="259.90" y="225.00" font-size="11.4" font-weight="normal" font-style="normal" text-anchor="start" fill="#111">AAV-<tspan font-style="italic">Gfp</tspan></text>
<rect x="236.80" y="236.00" width="14.30" height="6.60" fill="#646464" />
<text x="259.90" y="243.00" font-size="11.4" font-weight="normal" font-style="normal" text-anchor="start" fill="#111">AAV-<tspan font-style="italic">Cebpg</tspan></text>
<rect x="237.20" y="402.60" width="14.30" height="6.60" fill="#000" />
<text x="259.90" y="409.80" font-size="11.4" font-weight="normal" font-style="normal" text-anchor="start" fill="#111">AAV-<tspan font-style="italic">Gfp</tspan></text>
<rect x="237.80" y="427.80" width="13.1" height="5.6" fill="url(#chk)" stroke="#7a7a7a" stroke-width="1.2"/>
<text x="259.90" y="427.60" font-size="11.4" font-weight="normal" font-style="normal" text-anchor="start" fill="#111">AAV-<tspan font-style="italic">Atf5</tspan>+</text>
<text x="280.80" y="439.60" font-size="11.4" font-weight="normal" font-style="italic" text-anchor="start" fill="#111">Cebpg</text>
<text x="325.50" y="14.60" font-size="18.2" font-weight="bold" font-style="normal" text-anchor="start" >c</text>
<rect x="326.15" y="20.65" width="92.30" height="149.30" fill="#fff" stroke="#000" stroke-width="2.7"/>
<text x="334.20" y="39.70" font-size="10.9" font-weight="bold" font-style="normal" text-anchor="start" fill="#111">TA at 28-days:</text>
<rect x="337.90" y="46.60" width="68.70" height="99.60" fill="url(#pg1)"/>
<rect x="337.90" y="46.60" width="68.70" height="99.60" fill="url(#vg)" opacity="1"/>
<rect x="337.90" y="46.60" width="6.90" height="23.90" fill="#9c9c9c"/>
<polygon points="344.80,47.60 405.60,47.60 405.60,67.60 344.80,69.80" fill="url(#rg1)"/>
<polygon points="344.80,69.40 405.60,67.20 405.60,68.40 344.80,71.00" fill="#868686" opacity="0.8" filter="url(#bl3)"/>
<rect x="344.60" y="47.60" width="1.3" height="22.00" fill="#e4e4e4" opacity="0.85"/>
<line x1="349.30" y1="58.65" x2="348.80" y2="68.85" stroke="#2a2a2a" stroke-width="1.3" opacity="0.85"/>
<line x1="353.56" y1="58.50" x2="353.06" y2="68.70" stroke="#2a2a2a" stroke-width="1.3" opacity="0.85"/>
<line x1="357.82" y1="58.35" x2="357.32" y2="68.55" stroke="#2a2a2a" stroke-width="1.3" opacity="0.85"/>
<line x1="362.08" y1="58.20" x2="361.58" y2="68.40" stroke="#2a2a2a" stroke-width="1.3" opacity="0.85"/>
<line x1="366.34" y1="54.24" x2="365.84" y2="68.24" stroke="#2a2a2a" stroke-width="1.3" opacity="0.85"/>
<line x1="370.60" y1="57.89" x2="370.10" y2="68.09" stroke="#2a2a2a" stroke-width="1.3" opacity="0.85"/>
<line x1="374.86" y1="57.74" x2="374.36" y2="67.94" stroke="#2a2a2a" stroke-width="1.3" opacity="0.85"/>
<line x1="379.12" y1="57.59" x2="378.62" y2="67.79" stroke="#2a2a2a" stroke-width="1.3" opacity="0.85"/>
<line x1="383.38" y1="57.44" x2="382.88" y2="67.64" stroke="#2a2a2a" stroke-width="1.3" opacity="0.85"/>
<line x1="387.64" y1="50.09" x2="387.14" y2="67.49" stroke="#2a2a2a" stroke-width="1.3" opacity="0.85"/>
<line x1="391.90" y1="57.13" x2="391.40" y2="67.33" stroke="#2a2a2a" stroke-width="1.3" opacity="0.85"/>
<line x1="396.16" y1="56.98" x2="395.66" y2="67.18" stroke="#2a2a2a" stroke-width="1.3" opacity="0.85"/>
<line x1="400.42" y1="56.83" x2="399.92" y2="67.03" stroke="#2a2a2a" stroke-width="1.3" opacity="0.85"/>
<line x1="404.68" y1="56.68" x2="404.18" y2="66.88" stroke="#2a2a2a" stroke-width="1.3" opacity="0.85"/>
<text x="365.80" y="55.60" font-size="7.2" font-weight="bold" font-style="normal" text-anchor="middle" fill="#262626">mm</text>
<text x="383.90" y="55.60" font-size="7.4" font-weight="bold" font-style="normal" text-anchor="middle" fill="#262626">1</text>
<path d="M357.50,88.00 C359.17,87.92 361.25,88.83 362.50,90.50 C363.75,92.17 364.65,95.08 365.00,98.00 C365.35,100.92 365.00,104.83 364.60,108.00 C364.20,111.17 363.42,114.42 362.60,117.00 C361.78,119.58 360.80,123.50 359.70,123.50 C358.60,123.50 357.18,119.58 356.00,117.00 C354.82,114.42 353.47,111.17 352.60,108.00 C351.73,104.83 350.82,100.83 350.80,98.00 C350.78,95.17 351.38,92.67 352.50,91.00 C353.62,89.33 355.83,88.08 357.50,88.00 Z" fill="url(#mg1)" filter="url(#bl)"/>
<ellipse cx="355.91" cy="102.20" rx="2.13" ry="7.10" fill="#949494" filter="url(#bl2)" opacity="0.75"/>
<ellipse cx="360.60" cy="123.80" rx="1.0" ry="0.8" fill="#d0d0d0" filter="url(#bl3)" opacity="0.55"/>
<path d="M387.50,88.00 C389.67,87.83 391.63,88.83 393.00,90.50 C394.37,92.17 395.28,95.25 395.70,98.00 C396.12,100.75 395.90,104.00 395.50,107.00 C395.10,110.00 394.32,113.38 393.30,116.00 C392.28,118.62 390.87,122.53 389.40,122.70 C387.93,122.87 385.98,119.28 384.50,117.00 C383.02,114.72 381.53,112.00 380.50,109.00 C379.47,106.00 378.38,101.92 378.30,99.00 C378.22,96.08 378.47,93.33 380.00,91.50 C381.53,89.67 385.33,88.17 387.50,88.00 Z" fill="url(#mg1)" filter="url(#bl)"/>
<ellipse cx="384.56" cy="101.88" rx="2.61" ry="6.94" fill="#949494" filter="url(#bl2)" opacity="0.75"/>
<ellipse cx="390.30" cy="123.00" rx="1.0" ry="0.8" fill="#d0d0d0" filter="url(#bl3)" opacity="0.55"/>
<rect x="338.70" y="47.40" width="67.10" height="98.00" fill="none" stroke="#111" stroke-width="1.6"/>
<line x1="359.10" y1="132.60" x2="359.10" y2="152.20" stroke="#000" stroke-width="2.1"/>
<polygon points="359.10,124.60 355.00,133.60 363.20,133.60" fill="#000"/>
<line x1="389.30" y1="132.60" x2="389.30" y2="152.20" stroke="#000" stroke-width="2.1"/>
<polygon points="389.30,124.60 385.20,133.60 393.40,133.60" fill="#000"/>
<text x="343.60" y="161.60" font-size="10.7" font-weight="bold" font-style="italic" text-anchor="start" fill="#111">Atf5</text>
<text x="382.80" y="161.60" font-size="10.7" font-weight="bold" font-style="italic" text-anchor="start" fill="#111">Gfp</text>
<text x="326.60" y="389.50" font-size="18.2" font-weight="bold" font-style="normal" text-anchor="start" >l</text>
<rect x="326.15" y="397.75" width="92.30" height="149.50" fill="#fff" stroke="#000" stroke-width="2.7"/>
<text x="334.20" y="413.10" font-size="10.9" font-weight="bold" font-style="normal" text-anchor="start" fill="#111">TA at 28-days:</text>
<rect x="337.90" y="420.20" width="68.70" height="98.20" fill="url(#pg2)"/>
<rect x="337.90" y="420.20" width="68.70" height="98.20" fill="url(#vg)" opacity="0.6"/>
<rect x="337.90" y="420.20" width="6.90" height="26.30" fill="#9c9c9c"/>
<polygon points="344.80,421.20 405.60,421.20 405.60,445.10 344.80,445.80" fill="url(#rg2)"/>
<polygon points="344.80,445.40 405.60,444.70 405.60,445.90 344.80,447.00" fill="#868686" opacity="0.8" filter="url(#bl3)"/>
<rect x="344.60" y="421.20" width="1.3" height="24.40" fill="#e4e4e4" opacity="0.85"/>
<line x1="348.90" y1="434.75" x2="348.70" y2="444.95" stroke="#2a2a2a" stroke-width="1.3" opacity="0.85"/>
<line x1="353.34" y1="434.70" x2="353.14" y2="444.90" stroke="#2a2a2a" stroke-width="1.3" opacity="0.85"/>
<line x1="357.78" y1="434.65" x2="357.58" y2="444.85" stroke="#2a2a2a" stroke-width="1.3" opacity="0.85"/>
<line x1="362.22" y1="434.60" x2="362.02" y2="444.80" stroke="#2a2a2a" stroke-width="1.3" opacity="0.85"/>
<line x1="366.66" y1="430.75" x2="366.46" y2="444.75" stroke="#2a2a2a" stroke-width="1.3" opacity="0.85"/>
<line x1="371.10" y1="434.50" x2="370.90" y2="444.70" stroke="#2a2a2a" stroke-width="1.3" opacity="0.85"/>
<line x1="375.54" y1="434.45" x2="375.34" y2="444.65" stroke="#2a2a2a" stroke-width="1.3" opacity="0.85"/>
<line x1="379.98" y1="434.40" x2="379.78" y2="444.60" stroke="#2a2a2a" stroke-width="1.3" opacity="0.85"/>
<line x1="384.42" y1="434.35" x2="384.22" y2="444.55" stroke="#2a2a2a" stroke-width="1.3" opacity="0.85"/>
<line x1="388.86" y1="425.50" x2="388.66" y2="444.50" stroke="#2a2a2a" stroke-width="1.3" opacity="0.85"/>
<line x1="393.30" y1="434.25" x2="393.10" y2="444.45" stroke="#2a2a2a" stroke-width="1.3" opacity="0.85"/>
<line x1="397.74" y1="434.20" x2="397.54" y2="444.40" stroke="#2a2a2a" stroke-width="1.3" opacity="0.85"/>
<line x1="402.18" y1="434.15" x2="401.98" y2="444.35" stroke="#2a2a2a" stroke-width="1.3" opacity="0.85"/>
<text x="365.80" y="431.60" font-size="7.2" font-weight="bold" font-style="normal" text-anchor="middle" fill="#262626">mm</text>
<text x="384.30" y="431.60" font-size="7.4" font-weight="bold" font-style="normal" text-anchor="middle" fill="#262626">1</text>
<path d="M357.50,456.90 C359.33,456.65 361.95,458.65 363.30,461.50 C364.65,464.35 365.27,470.25 365.60,474.00 C365.93,477.75 365.90,481.08 365.30,484.00 C364.70,486.92 363.42,491.42 362.00,491.50 C360.58,491.58 358.37,487.58 356.80,484.50 C355.23,481.42 353.35,476.58 352.60,473.00 C351.85,469.42 351.48,465.68 352.30,463.00 C353.12,460.32 355.67,457.15 357.50,456.90 Z" fill="url(#mg2)" filter="url(#bl)"/>
<ellipse cx="357.09" cy="470.74" rx="2.00" ry="6.92" fill="#949494" filter="url(#bl2)" opacity="0.75"/>
<ellipse cx="362.90" cy="491.80" rx="1.0" ry="0.8" fill="#d0d0d0" filter="url(#bl3)" opacity="0.55"/>
<path d="M385.00,455.10 C387.03,455.02 390.10,455.52 391.50,457.50 C392.90,459.48 393.15,463.58 393.40,467.00 C393.65,470.42 393.32,474.83 393.00,478.00 C392.68,481.17 392.25,483.75 391.50,486.00 C390.75,488.25 389.92,491.33 388.50,491.50 C387.08,491.67 384.65,489.25 383.00,487.00 C381.35,484.75 379.60,481.33 378.60,478.00 C377.60,474.67 376.88,470.33 377.00,467.00 C377.12,463.67 377.97,459.98 379.30,458.00 C380.63,456.02 382.97,455.18 385.00,455.10 Z" fill="url(#mg2)" filter="url(#bl)"/>
<ellipse cx="382.90" cy="469.66" rx="2.46" ry="7.28" fill="#949494" filter="url(#bl2)" opacity="0.75"/>
<ellipse cx="389.40" cy="491.80" rx="1.0" ry="0.8" fill="#d0d0d0" filter="url(#bl3)" opacity="0.55"/>
<rect x="338.70" y="421.00" width="67.10" height="96.60" fill="none" stroke="#111" stroke-width="1.6"/>
<line x1="361.10" y1="500.60" x2="361.10" y2="531.60" stroke="#000" stroke-width="2.1"/>
<polygon points="361.10,492.60 357.00,501.60 365.20,501.60" fill="#000"/>
<line x1="389.30" y1="500.60" x2="389.30" y2="520.60" stroke="#000" stroke-width="2.1"/>
<polygon points="389.30,492.60 385.20,501.60 393.40,501.60" fill="#000"/>
<text x="331.80" y="540.60" font-size="10.7" font-weight="bold" font-style="italic" text-anchor="start" fill="#111">Atf5+Cebpg</text>
<text x="382.80" y="530.00" font-size="10.7" font-weight="bold" font-style="italic" text-anchor="start" fill="#111">Gfp</text>
</svg>
</body></html>
